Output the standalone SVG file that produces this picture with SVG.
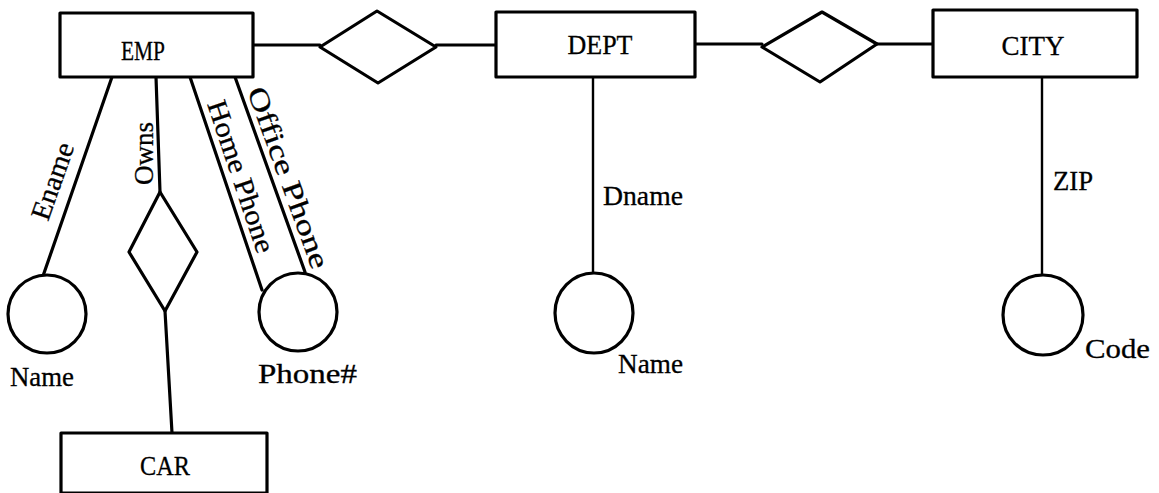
<svg xmlns="http://www.w3.org/2000/svg" width="1159" height="493" viewBox="0 0 1159 493">
  <style>
    .shape { fill: #fff; stroke: #000; stroke-width: 3.2; stroke-linejoin: round; }
    .edge { fill: none; stroke: #000; stroke-width: 3.2; stroke-linecap: round; }
    .thin { stroke-width: 2.4; }
    .lbl { font-family: "Liberation Serif", "DejaVu Serif", serif; font-size: 28px; fill: #000; stroke: #000; stroke-width: 0.3; }
    .mid { text-anchor: middle; }
  </style>
  <rect width="1159" height="493" fill="#fff"/>

  <!-- connectors and their role labels -->
  <g id="connectors">
    <line class="edge" x1="253" y1="45" x2="320" y2="45"/>
    <line class="edge" x1="436" y1="45" x2="496" y2="45"/>
    <line class="edge" x1="695" y1="44" x2="762" y2="44"/>
    <line class="edge" x1="877" y1="44" x2="933" y2="44"/>
    <line class="edge thin" x1="593" y1="77" x2="593" y2="273"/>
    <line class="edge thin" x1="1042" y1="77" x2="1042" y2="275"/>
    <line class="edge" x1="112" y1="77" x2="43" y2="276"/>
    <line class="edge" x1="156" y1="77" x2="160" y2="192"/>
    <line class="edge" x1="165" y1="311" x2="172" y2="433"/>
    <line class="edge" x1="190" y1="77" x2="262" y2="290"/>
    <line class="edge" x1="235" y1="77" x2="305" y2="272"/>
    <text class="lbl" transform="translate(48,222) rotate(-70.6)" textLength="80" lengthAdjust="spacingAndGlyphs">Ename</text>
    <text class="lbl" transform="translate(153,185) rotate(-90)" textLength="63" lengthAdjust="spacingAndGlyphs">Owns</text>
    <text class="lbl" transform="translate(207,104) rotate(71.5)" textLength="159" lengthAdjust="spacingAndGlyphs">Home Phone</text>
    <text class="lbl" transform="translate(247,91) rotate(70)" textLength="191" lengthAdjust="spacingAndGlyphs">Office Phone</text>
    <text class="lbl" x="603" y="205" textLength="80" lengthAdjust="spacingAndGlyphs">Dname</text>
    <text class="lbl" x="1053" y="190" textLength="40" lengthAdjust="spacingAndGlyphs">ZIP</text>
  </g>

  <!-- entities -->
  <g id="emp">
    <rect class="shape" x="60" y="13" width="193" height="64"/>
    <text class="lbl mid" x="143" y="60" textLength="44" lengthAdjust="spacingAndGlyphs">EMP</text>
  </g>
  <g id="dept">
    <rect class="shape" x="496" y="12" width="199" height="65"/>
    <text class="lbl mid" x="600" y="54" textLength="65" lengthAdjust="spacingAndGlyphs">DEPT</text>
  </g>
  <g id="city">
    <rect class="shape" x="933" y="10" width="204" height="67"/>
    <text class="lbl mid" x="1033" y="55" textLength="63" lengthAdjust="spacingAndGlyphs">CITY</text>
  </g>
  <g id="car">
    <rect class="shape" x="61" y="433" width="206" height="60"/>
    <text class="lbl mid" x="165" y="475" textLength="50" lengthAdjust="spacingAndGlyphs">CAR</text>
  </g>

  <!-- relationships -->
  <g id="emp-dept">
    <polygon class="shape" points="320,47 377,11 436,47 378,83"/>
  </g>
  <g id="dept-city">
    <polygon class="shape" points="762,47 822,12 877,44 820,82"/>
  </g>
  <g id="owns">
    <polygon class="shape" points="160,192 197,252 165,311 129,252"/>
  </g>

  <!-- value sets -->
  <g id="name-emp">
    <circle class="shape" cx="47" cy="314" r="39"/>
    <text class="lbl" x="10" y="386" textLength="64" lengthAdjust="spacingAndGlyphs">Name</text>
  </g>
  <g id="phone">
    <circle class="shape" cx="298" cy="312" r="39"/>
    <text class="lbl" x="258" y="383" textLength="99" lengthAdjust="spacingAndGlyphs">Phone#</text>
  </g>
  <g id="name-dept">
    <ellipse class="shape" cx="594" cy="313" rx="39" ry="40"/>
    <text class="lbl" x="618" y="373" textLength="65" lengthAdjust="spacingAndGlyphs">Name</text>
  </g>
  <g id="code">
    <ellipse class="shape" cx="1043" cy="315" rx="40" ry="40"/>
    <text class="lbl" x="1085" y="358" textLength="65" lengthAdjust="spacingAndGlyphs">Code</text>
  </g>
</svg>
